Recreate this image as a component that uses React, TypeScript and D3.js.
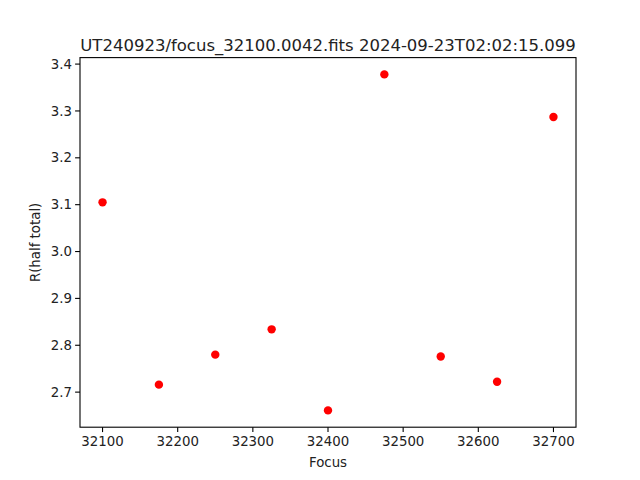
import React from "react";
import * as d3 from "d3";

const focus = [32100, 32175, 32250, 32325, 32400, 32475, 32550, 32625, 32700];
const rHalf = [3.105, 2.716, 2.780, 2.834, 2.661, 3.378, 2.776, 2.722, 3.287];
const xTicks = [32100, 32200, 32300, 32400, 32500, 32600, 32700];
const yTicks = [2.7, 2.8, 2.9, 3.0, 3.1, 3.2, 3.3, 3.4];
const title = "UT240923/focus_32100.0042.fits 2024-09-23T02:02:15.099";

export default function App() {
  const W = 640, H = 480;
  const L = 80, R = 576, T = 57.6, B = 427.2;
  const [x0, x1] = d3.extent(focus) as [number, number];
  const [y0, y1] = d3.extent(rHalf) as [number, number];
  const mx = (x1 - x0) * 0.05, my = (y1 - y0) * 0.05;
  const x = d3.scaleLinear().domain([x0 - mx, x1 + mx]).range([L, R]);
  const y = d3.scaleLinear().domain([y0 - my, y1 + my]).range([B, T]);
  const font = "DejaVu Sans, sans-serif";
  return (
    <svg width={W} height={H} style={{ position: "absolute", left: 0, top: 0 }} fontFamily={font}>
      <rect width={W} height={H} fill="#fff" />
      {focus.map((f, i) => (
        <circle key={i} cx={x(f)} cy={y(rHalf[i])} r={4.2} fill="#ff0000" />
      ))}
      <rect x={L} y={T} width={R - L} height={B - T} fill="none" stroke="#000" strokeWidth={1.1} />
      {xTicks.map((t) => (
        <g key={t} transform={`translate(${x(t)},${B})`}>
          <line y2={4.9} stroke="#000" strokeWidth={1.1} />
          <text y={19} textAnchor="middle" fontSize={13.33} fill="#222">{t}</text>
        </g>
      ))}
      {yTicks.map((t) => (
        <g key={t} transform={`translate(${L},${y(t)})`}>
          <line x2={-4.9} stroke="#000" strokeWidth={1.1} />
          <text x={-8} dy="0.35em" textAnchor="end" fontSize={13.33} fill="#222">{t.toFixed(1)}</text>
        </g>
      ))}
      <text x={(L + R) / 2} y={467} textAnchor="middle" fontSize={13.33} fill="#222">Focus</text>
      <text transform={`translate(40,${(T + B) / 2}) rotate(-90)`} textAnchor="middle" fontSize={13.33} fill="#222">R(half total)</text>
      <text x={(L + R) / 2} y={50.5} textAnchor="middle" fontSize={16.5} fill="#222">{title}</text>
    </svg>
  );
}
